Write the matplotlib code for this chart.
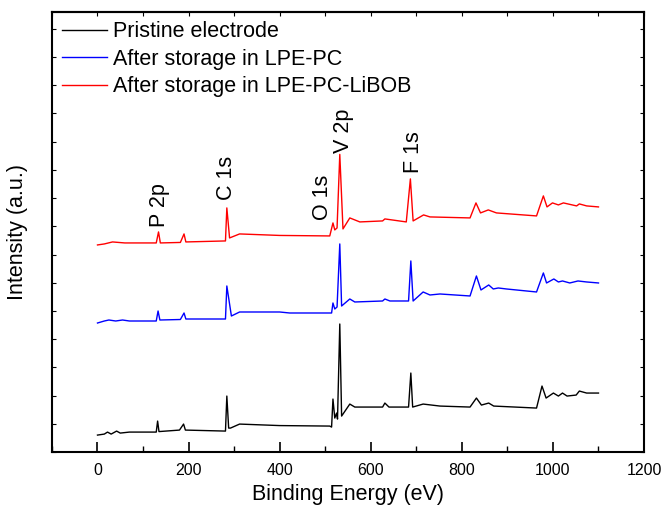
"""XPS survey spectra of the electrode before and after storage."""
import matplotlib
matplotlib.use('Agg')
import matplotlib.pyplot as plt
from matplotlib.ticker import MultipleLocator, NullFormatter

plt.rcParams['font.family'] = ['Liberation Sans', 'DejaVu Sans']

# binding energy (eV) and intensity (a.u.)
pristine_be = [0, 15, 22, 30, 42, 50, 70, 129, 132, 135, 180, 189, 193, 281, 284, 288, 292,
               312, 400, 510, 514, 517, 521, 525, 527, 532, 536, 554, 565, 626, 631, 640,
               683, 688, 692, 715, 752, 818, 832, 843, 859, 870, 964, 976, 985, 1001, 1012,
               1021, 1031, 1051, 1058, 1074, 1100]
pristine_int = [17, 18, 20, 18, 21, 19, 20, 20, 31, 20.5, 22, 28, 22, 21, 56, 24, 24,
                28, 26.5, 26, 25, 53, 34, 39, 33, 128, 36, 48, 45, 45, 49, 45,
                45, 79, 45, 48, 46, 45, 54, 47, 49, 46, 44, 66, 54, 59, 56,
                59, 56, 57, 61, 59, 59]

lpe_pc_be = [0, 15, 25, 40, 55, 70, 129, 133, 137, 182, 190, 194, 281, 284, 294, 312, 400,
             422, 510, 514, 517, 521, 526, 532, 536, 554, 565, 626, 631, 642, 683, 688, 693,
             715, 730, 752, 818, 832, 842, 859, 869, 880, 898, 964, 979, 986, 1002, 1012,
             1021, 1037, 1055, 1074, 1100]
lpe_pc_int = [129, 131, 132, 131, 132, 131, 131, 141, 132, 132.5, 139, 133, 133, 166, 136, 140, 140,
              139, 139, 139, 149, 143, 145, 208, 146, 153, 150, 151, 153, 151, 151, 191, 151,
              160, 157, 158, 156, 176, 162, 167, 163, 164, 163, 160, 179, 169, 173, 170,
              171, 169, 171, 170, 169]

libob_be = [0, 15, 33, 60, 129, 134, 138, 182, 190, 194, 281, 284, 290, 312, 400, 510, 517,
            521, 526, 532, 539, 554, 576, 626, 631, 678, 687, 693, 716, 730, 818, 831, 841,
            858, 876, 964, 979, 987, 999, 1012, 1023, 1052, 1058, 1074, 1100]
libob_int = [207, 208, 210, 209, 209, 220, 209, 209.5, 218, 210, 211, 244, 214, 218, 216.5, 216, 229,
             222, 224, 297.5, 223, 234, 230, 231, 233, 230, 273, 231, 237, 235, 234, 249, 239,
             242, 239, 236, 256, 245, 249, 247, 249, 246, 248, 246, 245]

series_labels = ['Pristine electrode', 'After storage in LPE-PC', 'After storage in LPE-PC-LiBOB']
series_colors = ['black', 'blue', 'red']

peak_names = ['P 2p', 'C 1s', 'O 1s', 'V 2p', 'F 1s']
peak_be = [136, 284, 495, 541, 694]
peak_label_y = [225, 252, 232, 299, 279]


def main():
    fig = plt.figure(figsize=(6.66, 5.12), dpi=100)
    ax = fig.add_axes([0.078, 0.117, 0.889, 0.860])

    data = [(pristine_be, pristine_int), (lpe_pc_be, lpe_pc_int), (libob_be, libob_int)]
    for (be, inten), lab, col in zip(data, series_labels, series_colors):
        ax.plot(be, inten, color=col, lw=1.0, label=lab)

    for name, x, y in zip(peak_names, peak_be, peak_label_y):
        ax.text(x, y, name, rotation=90, ha='center', va='bottom', fontsize=15.5)

    ax.set_xlim(-100, 1200)
    ax.set_ylim(0, 440)
    ax.xaxis.set_major_locator(MultipleLocator(200))
    ax.xaxis.set_minor_locator(MultipleLocator(100))
    ax.yaxis.set_major_locator(MultipleLocator(28.2))
    ax.yaxis.set_major_formatter(NullFormatter())
    ax.tick_params(axis='x', which='major', direction='in', length=7, width=1.2,
                   labelsize=11.5, pad=8)
    ax.tick_params(axis='x', which='minor', direction='in', length=4, width=1.0)
    ax.tick_params(axis='y', which='major', direction='in', length=3, width=0.8,
                   left=True, right=True)

    top = ax.secondary_xaxis('top')
    top.xaxis.set_major_locator(MultipleLocator(100))
    top.xaxis.set_major_formatter(NullFormatter())
    top.tick_params(direction='in', length=3, width=0.8)

    for s in list(ax.spines.values()) + list(top.spines.values()):
        s.set_linewidth(1.5)

    ax.set_xlabel('Binding Energy (eV)', fontsize=15.5, labelpad=4)
    ax.set_ylabel('Intensity (a.u.)', fontsize=15.5, labelpad=14)

    ax.legend(loc='upper left', frameon=False, fontsize=15.5, handlelength=2.1,
              handletextpad=0.3, labelspacing=0.3, borderaxespad=0.2,
              borderpad=0.25)

    fig.savefig('out.png', dpi=100)


if __name__ == '__main__':
    main()
